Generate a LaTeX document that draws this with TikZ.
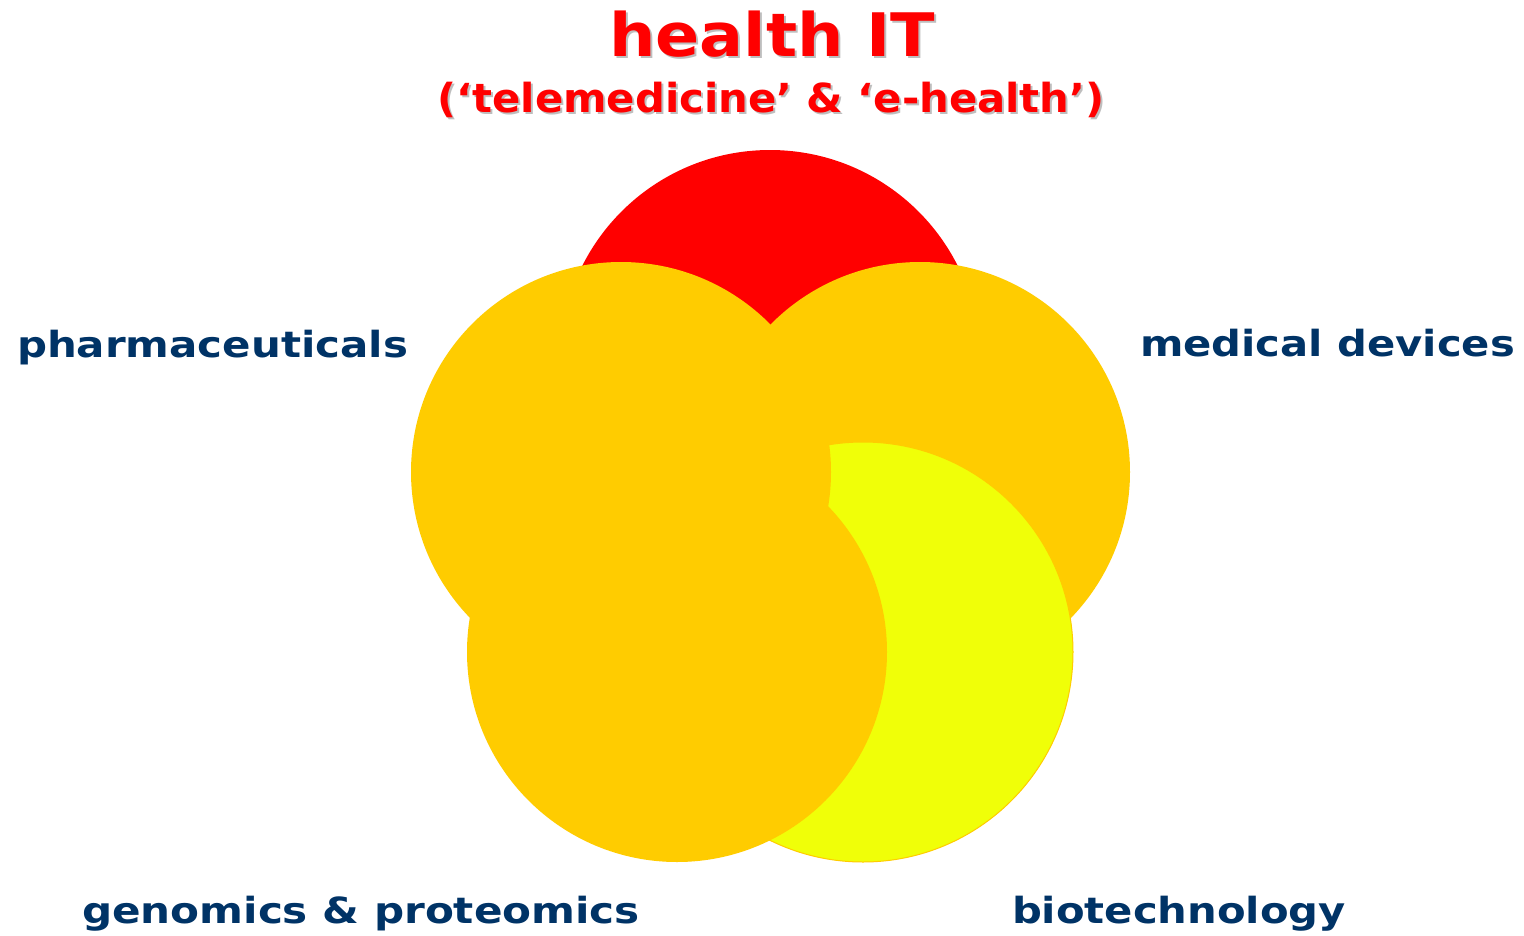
\documentclass[tikz,border=0pt]{standalone}
\usepackage{fontspec}
\setmainfont{DejaVu Sans}
\usepackage{graphicx}
\definecolor{hitred}{HTML}{FF0000}
\definecolor{circorange}{HTML}{FFCC00}
\definecolor{circyellow}{HTML}{F0FF08}
\definecolor{navy}{HTML}{003366}
\definecolor{shadowgray}{HTML}{BEBEBE}
\newlength\fitlen
\newcommand\fitx[2]{\settowidth\fitlen{#2}\edef\fitfac{\fpeval{(#1)/(\the\fitlen)}}\scalebox{\fitfac}[1]{#2}}
\tikzset{
  blob/.style={circle, minimum size=420pt, inner sep=0pt, outer sep=0pt},
  lbl/.style={inner sep=0pt, outer sep=0pt, text=navy, font=\fontsize{36}{40}\selectfont\bfseries, anchor=base west},
  ttl/.style={inner sep=0pt, outer sep=0pt, font=\fontsize{60}{66}\selectfont\bfseries, anchor=base},
  sub/.style={inner sep=0pt, outer sep=0pt, font=\fontsize{40}{44}\selectfont\bfseries, anchor=base}
}
\begin{document}
\begin{tikzpicture}[x=1pt,y=-1pt]
\path[use as bounding box, fill=white] (0,0) rectangle (1524,935);
% circles
\node[blob, fill=hitred] (red) at (770,360) {};
\node[blob, fill=circorange] (devices) at (920,472) {};
\node[blob, fill=circyellow, draw=circorange, line width=1pt] (biotech) at (863,652) {};
\node[blob, fill=circorange] (pharma) at (621,472) {};
\node[blob, fill=circorange] (genomics) at (677,652) {};
% title
\node[ttl, text=shadowgray] (titleshadow) at (774,58) {\fitx{326pt}{health IT}};
\node[ttl, text=hitred] (title) at (772,56) {\fitx{326pt}{health IT}};
\node[sub, text=shadowgray] (subshadow) at (773,114) {\fitx{667pt}{(‘telemedicine’ \& ‘e-health’)}};
\node[sub, text=hitred] (subtitle) at (771,112) {\fitx{667pt}{(‘telemedicine’ \& ‘e-health’)}};
% labels
\node[lbl] (lpharma) at (17,357) {\fitx{391pt}{pharmaceuticals}};
\node[lbl] (ldevices) at (1140,356) {\fitx{375pt}{medical devices}};
\node[lbl] (lgenomics) at (82,923) {\fitx{558pt}{genomics \& proteomics}};
\node[lbl] (lbiotech) at (1012,923) {\fitx{334pt}{biotechnology}};
\end{tikzpicture}
\end{document}
